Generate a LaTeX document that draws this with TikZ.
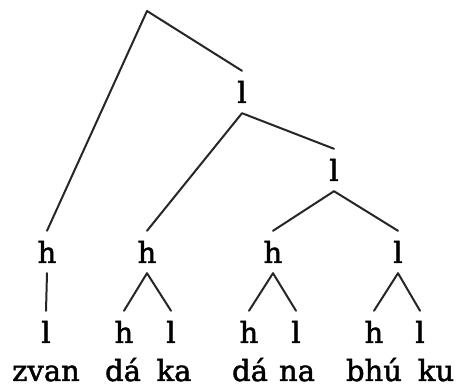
\documentclass[tikz,border=0pt]{standalone}
\usepackage{fontspec}
\setmainfont[FakeBold=1.6]{DejaVu Serif}
\begin{document}
\begin{tikzpicture}[x=1pt,y=1pt,
  tone/.style={anchor=base, inner xsep=0pt, inner ysep=10pt,
               text height=22pt, text depth=0pt,
               font=\fontsize{29}{34}\selectfont},
  word/.style={anchor=base, inner sep=0pt, font=\fontsize{29}{34}\selectfont},
  branch/.style={line width=2pt, line cap=round, line join=round, draw=black!85}]
\useasboundingbox (0,0) rectangle (457,387);

% upper tree
\coordinate (root) at (147,376);
\node[tone] (l1) at (242,284) {l};
\node[tone] (l2) at (334,206) {l};

% foot level
\node[tone] (h1) at (47,124) {h};
\node[tone] (h2) at (147,124) {h};
\node[tone] (h3) at (273,124) {h};
\node[tone] (f4) at (398,124) {l};

% syllable level
\node[tone] (s1) at (46,44) {l};
\node[tone] (s2) at (124,44) {h};
\node[tone] (s3) at (171,44) {l};
\node[tone] (s4) at (249,44) {h};
\node[tone] (s5) at (296,44) {l};
\node[tone] (s6) at (374,44) {h};
\node[tone] (s7) at (420,44) {l};

% words
\node[word] (w1) at (46,6) {zvan};
\node[word] (w2) at (123,6) {dá};
\node[word] (w3) at (174,6) {ka};
\node[word] (w4) at (250,6) {dá};
\node[word] (w5) at (297,6) {na};
\node[word] (w6) at (374,6) {bhú};
\node[word] (w7) at (436,6) {ku};

% branches
\draw[branch] (h1.north) -- (root) -- (l1.north);
\draw[branch] (h2.north) -- (l1.south) -- (l2.north);
\draw[branch] (h3.north) -- (l2.south) -- (f4.north);
\draw[branch] (h1.south) -- (s1.north);
\draw[branch] (s2.north) -- (h2.south) -- (s3.north);
\draw[branch] (s4.north) -- (h3.south) -- (s5.north);
\draw[branch] (s6.north) -- (f4.south) -- (s7.north);
\end{tikzpicture}
\end{document}
